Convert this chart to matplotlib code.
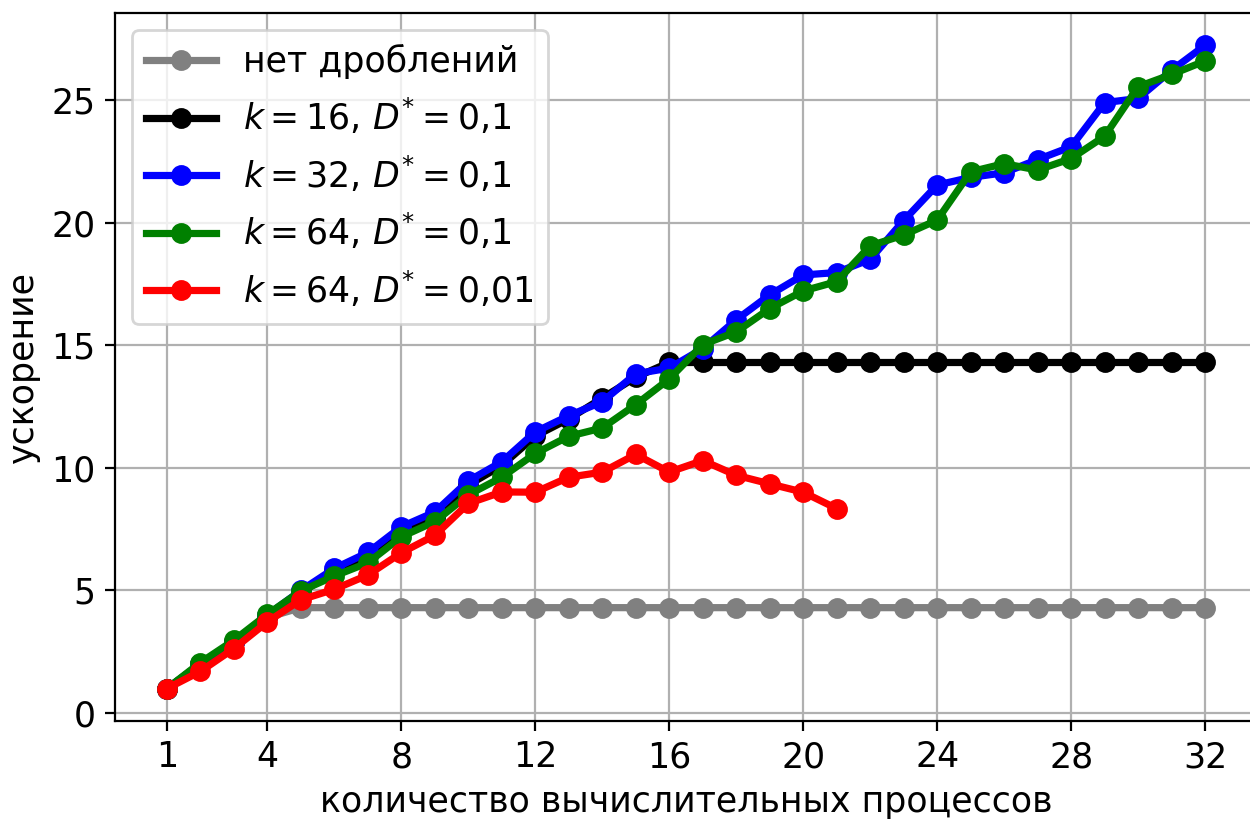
import matplotlib
matplotlib.use("Agg")
import matplotlib.pyplot as plt

# number of worker processes
procs = list(range(1, 33))

# speed-up without splitting
no_split = [1.0, 2.0, 2.9, 3.9, 4.3] + [4.3] * 27

# k = 16, D* = 0.1
k16 = [1.0, 2.0, 2.9, 3.9, 4.9, 5.8, 6.4, 7.4, 8.0, 9.3, 10.1, 11.3, 12.0, 12.85,
       13.7, 14.3] + [14.3] * 16

# k = 32, D* = 0.1
k32 = [1.0, 2.0, 2.9, 4.0, 5.0, 5.9, 6.55, 7.6, 8.2, 9.47, 10.25, 11.47, 12.13,
       12.7, 13.84, 14.07, 14.87, 16.04, 17.06, 17.87, 17.97, 18.51, 20.09, 21.54,
       21.85, 22.04, 22.58, 23.1, 24.9, 25.07, 26.22, 27.24]

# k = 64, D* = 0.1
k64 = [1.0, 2.06, 2.97, 4.03, 4.98, 5.59, 6.13, 7.19, 7.81, 8.9, 9.62, 10.59,
       11.29, 11.63, 12.58, 13.63, 15.03, 15.55, 16.5, 17.22, 17.6, 19.06, 19.5,
       20.11, 22.08, 22.41, 22.15, 22.62, 23.53, 25.55, 26.05, 26.6]

# k = 64, D* = 0.01 (up to 21 processes)
k64_fine = [1.0, 1.7, 2.63, 3.72, 4.62, 5.05, 5.63, 6.54, 7.25, 8.55, 9.02, 9.01,
            9.62, 9.83, 10.55, 9.83, 10.3, 9.7, 9.35, 9.01, 8.34]

labels = ["нет дроблений",
          r"$k=16$, $D^{*}=0{,}1$",
          r"$k=32$, $D^{*}=0{,}1$",
          r"$k=64$, $D^{*}=0{,}1$",
          r"$k=64$, $D^{*}=0{,}01$"]
xticks = [1, 4, 8, 12, 16, 20, 24, 28, 32]
yticks = [0, 5, 10, 15, 20, 25]

plt.rcParams["font.size"] = 12.5
plt.rcParams["mathtext.fontset"] = "dejavusans"

fig = plt.figure(figsize=(6.25, 4.095), dpi=200)
ax = fig.add_axes([0.092, 0.12, 0.9136, 0.864])

style = dict(marker="o", linewidth=2.6, markersize=6.5)
ax.plot(procs, no_split, color="gray", label=labels[0], **style)
ax.plot(procs, k16, color="black", label=labels[1], **style)
ax.plot(procs, k32, color="blue", label=labels[2], **style)
ax.plot(procs, k64, color="green", label=labels[3], **style)
ax.plot(procs[:len(k64_fine)], k64_fine, color="red", label=labels[4], **style)

ax.set_xticks(xticks)
ax.set_yticks(yticks)
ax.grid(True, color="#b0b0b0")
ax.set_axisbelow(True)
ax.set_xlabel("количество вычислительных процессов")
ax.set_ylabel("ускорение")
ax.legend(loc="upper left")

fig.savefig("out.png", dpi=200)
